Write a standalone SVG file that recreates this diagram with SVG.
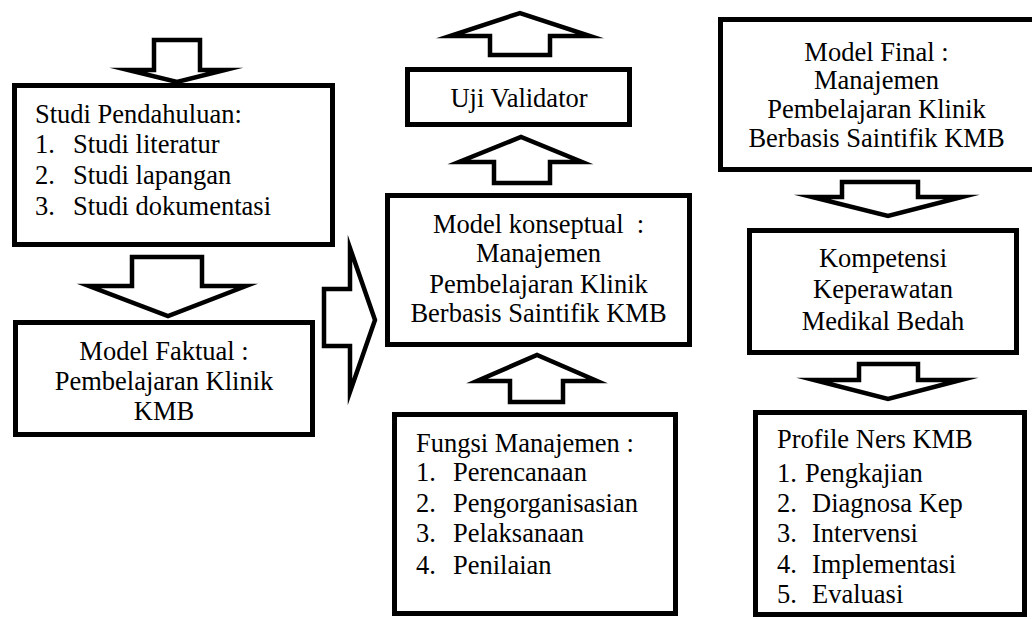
<svg xmlns="http://www.w3.org/2000/svg" width="1032" height="619" viewBox="0 0 1032 619">
<style>
.box{fill:#fff;stroke:#000;stroke-width:5}
.arr{fill:#fff;stroke:#000;stroke-width:4.5;stroke-linejoin:miter;stroke-miterlimit:10}
text{font-family:"Liberation Serif","Times New Roman",serif;font-size:26.5px;fill:#000}
.c{text-anchor:middle}
</style>
<rect width="1032" height="619" fill="#fff"/>
<g id="connectors">
<path class="arr" d="M154,40 H200 V70 H225 L177,82 L128,70 H154 Z"/>
<path class="arr" d="M132,257 H202 V286 H246 L168,316 L89,286 H132 Z"/>
<path class="arr" d="M324,289 H350 V248 L375,320 L350,392 V346 H324 Z"/>
<path class="arr" d="M490,55 V36 H450 L520,13 L590,36 H550 V55 Z"/>
<path class="arr" d="M494,183 V162 H459 L521,137 L582,162 H550 V183 Z"/>
<path class="arr" d="M510,402 V381 H477 L537,355 L597,381 H563 V402 Z"/>
<path class="arr" d="M842,182 H918 V197 H962 L888,216 L812,197 H842 Z"/>
<path class="arr" d="M859,364 H918 V380 H961 L888,399 L814,380 H859 Z"/>
</g>
<g id="studi">
<rect class="box" x="14.5" y="85.5" width="318" height="159"/>
<text x="35" y="123">Studi Pendahuluan:</text>
<text x="35" y="153">1.</text><text x="73" y="153">Studi literatur</text>
<text x="35" y="184">2.</text><text x="73" y="184">Studi lapangan</text>
<text x="35" y="215">3.</text><text x="73" y="215">Studi dokumentasi</text>
</g>
<g id="faktual">
<rect class="box" x="15.5" y="322.5" width="297" height="112"/>
<text class="c" x="164" y="360">Model Faktual :</text>
<text class="c" x="164" y="390">Pembelajaran Klinik</text>
<text class="c" x="164" y="420">KMB</text>
</g>
<g id="validator">
<rect class="box" x="407.5" y="69.5" width="222" height="55"/>
<text class="c" x="519" y="107">Uji Validator</text>
</g>
<g id="konseptual">
<rect class="box" x="387.5" y="195.5" width="302" height="149"/>
<text class="c" x="538.5" y="233" xml:space="preserve">Model konseptual  :</text>
<text class="c" x="538.5" y="262">Manajemen</text>
<text class="c" x="538.5" y="293">Pembelajaran Klinik</text>
<text class="c" x="538.5" y="322">Berbasis Saintifik KMB</text>
</g>
<g id="fungsi">
<rect class="box" x="394.5" y="414.5" width="281" height="199"/>
<text x="416" y="452">Fungsi Manajemen :</text>
<text x="416" y="481">1.</text><text x="453" y="481">Perencanaan</text>
<text x="416" y="512">2.</text><text x="453" y="512">Pengorganisasian</text>
<text x="416" y="542">3.</text><text x="453" y="542">Pelaksanaan</text>
<text x="416" y="574">4.</text><text x="453" y="574">Penilaian</text>
</g>
<g id="final">
<rect class="box" x="720.5" y="19.5" width="330" height="150"/>
<text class="c" x="876.5" y="61">Model Final :</text>
<text class="c" x="876.5" y="89">Manajemen</text>
<text class="c" x="876.5" y="118">Pembelajaran Klinik</text>
<text class="c" x="876.5" y="147">Berbasis Saintifik KMB</text>
</g>
<g id="kompetensi">
<rect class="box" x="749.5" y="230.5" width="267" height="122"/>
<text class="c" x="883" y="267">Kompetensi</text>
<text class="c" x="883" y="298">Keperawatan</text>
<text class="c" x="883" y="330">Medikal Bedah</text>
</g>
<g id="profile">
<rect class="box" x="755.5" y="412.5" width="269" height="202"/>
<text x="777" y="448">Profile Ners KMB</text>
<text x="777" y="482">1.</text><text x="805" y="482">Pengkajian</text>
<text x="777" y="512">2.</text><text x="812" y="512">Diagnosa Kep</text>
<text x="777" y="542">3.</text><text x="812" y="542">Intervensi</text>
<text x="777" y="573">4.</text><text x="812" y="573">Implementasi</text>
<text x="777" y="603">5.</text><text x="812" y="603">Evaluasi</text>
</g>
</svg>
